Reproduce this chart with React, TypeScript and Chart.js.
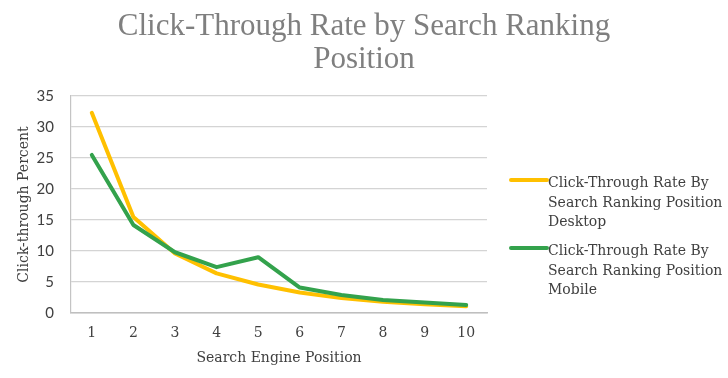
import React, { useEffect, useRef } from "react";
import { Chart, registerables } from "chart.js";

Chart.register(...registerables);

const titleLines = ["Click-Through Rate by Search Ranking", "Position"];
const positions = ["1", "2", "3", "4", "5", "6", "7", "8", "9", "10"];
const desktopLabel = ["Click-Through Rate By", "Search Ranking Position", "Desktop"];
const mobileLabel = ["Click-Through Rate By", "Search Ranking Position", "Mobile"];
const desktopValues = [32.3, 15.5, 9.6, 6.4, 4.6, 3.3, 2.4, 1.8, 1.4, 1.1];
const mobileValues = [25.5, 14.2, 9.8, 7.4, 9.0, 4.1, 2.9, 2.1, 1.7, 1.3];
const yTitle = "Click-through Percent";
const xTitle = "Search Engine Position";

const DESKTOP_COLOR = "#FFC000";
const MOBILE_COLOR = "#33A24C";
const TEXT_COLOR = "#404040";
const SERIF = "'DejaVu Serif'";

const legendPlugin = {
  id: "customLegend",
  afterDraw(chart: any) {
    const ctx = chart.ctx;
    const area = chart.chartArea;
    const lineX0 = area.right + 24;
    const lineX1 = area.right + 60;
    const textX = area.right + 61;
    const entries = [
      { label: desktopLabel, color: DESKTOP_COLOR, y: 187 },
      { label: mobileLabel, color: MOBILE_COLOR, y: 255 },
    ];
    ctx.save();
    ctx.font = "14px " + SERIF;
    ctx.fillStyle = TEXT_COLOR;
    ctx.textBaseline = "alphabetic";
    ctx.textAlign = "left";
    entries.forEach((e) => {
      ctx.strokeStyle = e.color;
      ctx.lineWidth = 4;
      ctx.lineCap = "round";
      ctx.beginPath();
      ctx.moveTo(lineX0, e.y - 7);
      ctx.lineTo(lineX1, e.y - 7);
      ctx.stroke();
      e.label.forEach((line, i) => {
        ctx.fillText(line, textX, e.y + i * 19.5);
      });
    });
    ctx.restore();
  },
};

export default function App() {
  const ref = useRef<HTMLCanvasElement | null>(null);
  useEffect(() => {
    if (!ref.current) return;
    const chart = new Chart(ref.current, {
      type: "line",
      data: {
        labels: positions,
        datasets: [
          {
            label: desktopLabel.join(" "),
            data: desktopValues,
            borderColor: DESKTOP_COLOR,
            backgroundColor: DESKTOP_COLOR,
            borderWidth: 4,
            pointRadius: 0,
            tension: 0,
            borderJoinStyle: "round",
            borderCapStyle: "round",
            order: 2,
          },
          {
            label: mobileLabel.join(" "),
            data: mobileValues,
            borderColor: MOBILE_COLOR,
            backgroundColor: MOBILE_COLOR,
            borderWidth: 4,
            pointRadius: 0,
            tension: 0,
            borderJoinStyle: "round",
            borderCapStyle: "round",
            order: 1,
          },
        ],
      },
      options: {
        responsive: true,
        maintainAspectRatio: false,
        animation: false,
        layout: { padding: 0 },
        plugins: {
          legend: { display: false },
          tooltip: { enabled: false },
          title: {
            display: true,
            text: titleLines,
            color: "#7f7f7f",
            font: { family: "'Liberation Serif'", size: 31, weight: "normal", lineHeight: 1.065 },
            padding: { top: 10, bottom: 20 },
          },
        },
        scales: {
          x: {
            offset: true,
            grid: { display: false, drawTicks: false },
            border: { display: true, color: "#bfbfbf", width: 1.5 },
            ticks: {
              color: TEXT_COLOR,
              padding: 12,
              font: { family: SERIF, size: 14 },
              maxRotation: 0,
            },
            title: {
              display: true,
              text: xTitle,
              color: TEXT_COLOR,
              font: { family: SERIF, size: 14 },
              padding: { top: 0, bottom: 11 },
            },
            afterFit: (s: any) => {
              s.height = 65;
            },
          },
          y: {
            min: 0,
            max: 35,
            ticks: {
              stepSize: 5,
              color: TEXT_COLOR,
              padding: 17,
              font: { family: "Lato", size: 15 },
            },
            grid: { color: "#d4d4d4", lineWidth: 1.2, drawTicks: false },
            border: { display: true, color: "#c4c4c4", width: 1.2 },
            title: {
              display: true,
              text: yTitle,
              color: TEXT_COLOR,
              font: { family: SERIF, size: 14 },
              padding: { top: 16, bottom: 0 },
            },
            afterFit: (s: any) => {
              s.width = 71;
            },
          },
          legendSpace: {
            type: "linear",
            position: "right",
            display: true,
            grid: { display: false, drawTicks: false },
            border: { display: false },
            ticks: { display: false },
            afterFit: (s: any) => {
              s.width = 241;
            },
          },
        },
      },
      plugins: [legendPlugin],
    });
    return () => chart.destroy();
  }, []);
  return (
    <div style={{ position: "fixed", left: 0, top: 0, width: 728, height: 378, background: "#fff" }}>
      <canvas ref={ref} />
    </div>
  );
}
